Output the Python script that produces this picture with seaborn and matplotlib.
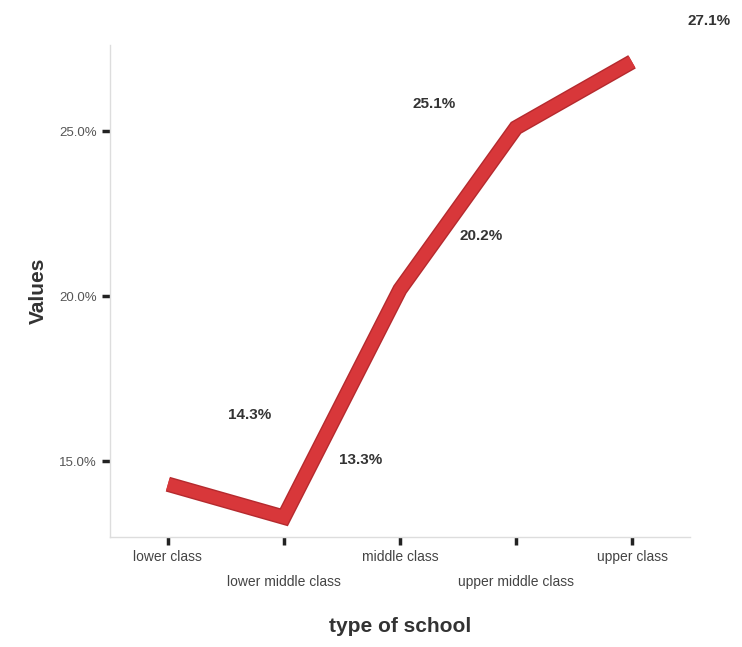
import matplotlib
matplotlib.use("Agg")
import matplotlib.pyplot as plt
import seaborn as sns
import pandas as pd
import matplotlib.patheffects as pe

categories = ["lower class", "lower middle class", "middle class", "upper middle class", "upper class"]
values = [14.3, 13.3, 20.2, 25.1, 27.1]
y_ticks = [15.0, 20.0, 25.0]

df = pd.DataFrame({"type of school": categories, "Values": values})

sns.set_theme(style="white")
plt.rcParams["font.family"] = ["Liberation Sans", "DejaVu Sans"]

fig = plt.figure(figsize=(7.42, 6.47), dpi=100)
ax = fig.add_axes([0.148, 0.17, 0.782, 0.76])

sns.lineplot(data=df, x="type of school", y="Values", ax=ax, color="#d8373a",
             linewidth=9, sort=False, solid_joinstyle="miter", solid_capstyle="butt",
             path_effects=[pe.Stroke(linewidth=11, foreground="#b52a2e", capstyle="butt"), pe.Normal()])

ax.set_xlim(-0.5, 4.5)
ax.set_ylim(12.7, 27.6)
ax.set_yticks(y_ticks)
ax.set_yticklabels([f"{v:.1f}%" for v in y_ticks], color="#555555", fontsize=9.5)
ax.set_xticks(range(len(categories)))
ax.set_xticklabels(categories, color="#444444", fontsize=10)
for i, lab in enumerate(ax.get_xticklabels()):
    if i % 2 == 1:
        lab.set_y(-0.05)
ax.tick_params(axis="both", length=6, width=2.5, color="#222222", direction="out", bottom=True, left=True)

for s in ["top", "right"]:
    ax.spines[s].set_visible(False)
for s in ["left", "bottom"]:
    ax.spines[s].set_color("#dddddd")
    ax.spines[s].set_linewidth(1)

ax.set_xlabel("type of school", fontsize=15, fontweight="bold", color="#333333", labelpad=20)
ax.set_ylabel("Values", fontsize=15, fontweight="bold", color="#333333", labelpad=8)

label_offsets = [(82, 69), (77, 57), (81, 53), (-82, 24), (77, 41)]
for i, (v, off) in enumerate(zip(values, label_offsets)):
    ax.annotate(f"{v:.1f}%", xy=(i, v), xytext=off, textcoords="offset pixels",
                ha="center", va="center", fontsize=11, fontweight="bold",
                color="#333333", annotation_clip=False)

fig.savefig("out.png", dpi=100)
